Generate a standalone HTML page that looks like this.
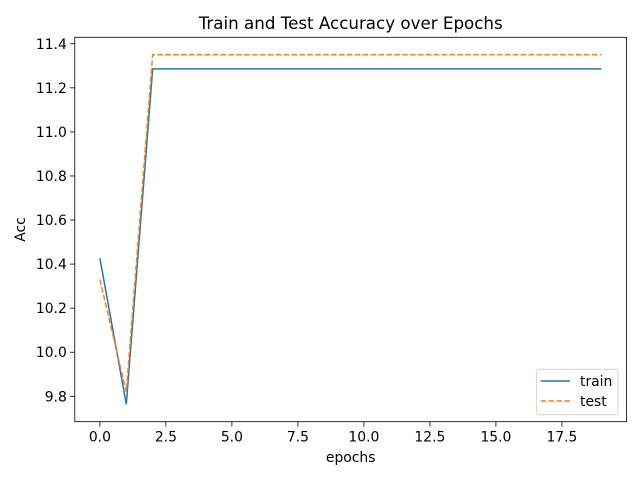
<!DOCTYPE html>
<html><head><meta charset="utf-8"><style>
body{margin:0;background:#fff;font-family:"Liberation Sans","DejaVu Sans",sans-serif;}
svg text{font-family:"DejaVu Sans","Liberation Sans",sans-serif;font-size:13.9px;fill:#000;}
</style></head><body>
<svg id="chart" width="640" height="480" viewBox="0 0 640 480" xmlns="http://www.w3.org/2000/svg">
<rect width="640" height="480" fill="#fff"/>
<text x="350.7" y="29" text-anchor="middle" style="font-size:16.7px">Train and Test Accuracy over Epochs</text>
<text x="350.7" y="462" text-anchor="middle">epochs</text>
<text transform="translate(25,229.5) rotate(-90)" text-anchor="middle">Acc</text>
</svg>
<script>
const epochs=[0,1,2,3,4,5,6,7,8,9,10,11,12,13,14,15,16,17,18,19];
const trainAcc=[10.427,9.764,11.286,11.286,11.286,11.286,11.286,11.286,11.286,11.286,11.286,11.286,11.286,11.286,11.286,11.286,11.286,11.286,11.286,11.286];
const testAcc=[10.33,9.82,11.35,11.35,11.35,11.35,11.35,11.35,11.35,11.35,11.35,11.35,11.35,11.35,11.35,11.35,11.35,11.35,11.35,11.35];
const xTicks=[0,2.5,5,7.5,10,12.5,15,17.5];
const xTickLabels=["0.0","2.5","5.0","7.5","10.0","12.5","15.0","17.5"];
const yTicks=[9.8,10.0,10.2,10.4,10.6,10.8,11.0,11.2,11.4];
const yTickLabels=["9.8","10.0","10.2","10.4","10.6","10.8","11.0","11.2","11.4"];

const L=74.8,R=626.6,T=37.3,B=421.7;
const all=trainAcc.concat(testAcc);
const xmin=Math.min(...epochs),xmax=Math.max(...epochs),xm=(xmax-xmin)*0.05;
const ymin0=Math.min(...all),ymax0=Math.max(...all),ym=(ymax0-ymin0)*0.05;
const x=v=>L+(v-(xmin-xm))/((xmax+xm)-(xmin-xm))*(R-L);
const y=v=>B-(v-(ymin0-ym))/((ymax0+ym)-(ymin0-ym))*(B-T);
const svg=document.getElementById('chart');
const NS='http://www.w3.org/2000/svg';
function mk(tag,attrs){const e=document.createElementNS(NS,tag);for(const k in attrs)e.setAttribute(k,attrs[k]);svg.appendChild(e);return e;}

xTicks.forEach((t,i)=>{
  const l=mk('line',{x1:x(t),x2:x(t),y1:B,y2:B+4.9,stroke:'#000','stroke-width':0.8});
  
  
  const tx=mk('text',{x:x(t),y:B+20,'text-anchor':'middle'});
  tx.textContent=xTickLabels[i];
  
  
});
yTicks.forEach((t,i)=>{
  const l=mk('line',{x1:L-4.9,x2:L,y1:y(t),y2:y(t),stroke:'#000','stroke-width':0.8});
  
  
  const tx=mk('text',{x:L-8,y:y(t)+5,'text-anchor':'end'});
  tx.textContent=yTickLabels[i];
  
  
});
function pts(arr){return epochs.map((e,i)=>x(e)+','+y(arr[i])).join(' ');}
const p1=mk('polyline',{points:pts(trainAcc),fill:'none',stroke:'#1f77b4','stroke-width':1.5});


const p2=mk('polyline',{points:pts(testAcc),fill:'none',stroke:'#ff7f0e','stroke-width':1.5,'stroke-dasharray':'5.5,2.4'});


const frame=mk('rect',{x:L,y:T,width:R-L,height:B-T,fill:'none',stroke:'#000','stroke-width':0.8});



const lg=mk('rect',{x:536.7,y:369.3,width:81.3,height:45.4,rx:2,fill:'#fff','fill-opacity':0.8,stroke:'#ccc','stroke-width':0.8});


const l1=mk('line',{x1:540.7,x2:570,y1:381,y2:381,stroke:'#1f77b4','stroke-width':1.5});


const t1=mk('text',{x:580,y:386});t1.textContent='train';


const l2=mk('line',{x1:540.7,x2:570,y1:401,y2:401,stroke:'#ff7f0e','stroke-width':1.5,'stroke-dasharray':'5.5,2.4'});


const t2=mk('text',{x:580,y:406});t2.textContent='test';


</script>
</body></html>
